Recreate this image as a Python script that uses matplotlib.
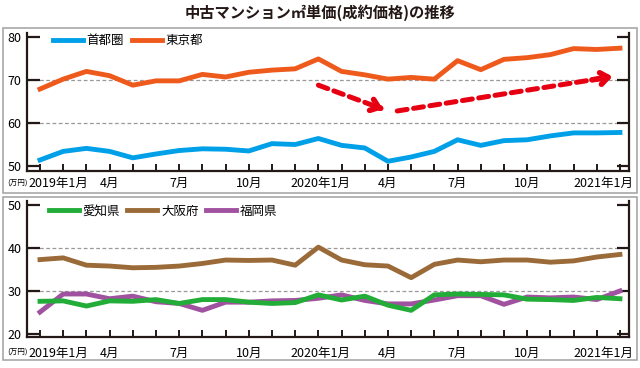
import matplotlib
matplotlib.use("Agg")
import matplotlib.pyplot as plt
from matplotlib.patches import Rectangle

plt.rcParams["font.family"] = ["Noto Sans CJK JP", "DejaVu Sans"]

# 2019年1月〜2021年2月 (26か月)
months = list(range(26))
tick_labels = ["2019年1月", "4月", "7月", "10月", "2020年1月", "4月", "7月", "10月", "2021年1月"]
tick_label_pos = [0.78, 3, 6, 9, 12.1, 15, 18, 21, 24.3]

# 首都圏・東京都 (万円/㎡)
shutoken = [51.4, 53.4, 54.1, 53.4, 51.9, 52.8, 53.6, 54.0, 53.9, 53.5, 55.2, 55.0, 56.4,
            54.8, 54.2, 51.1, 52.1, 53.4, 56.1, 54.8, 55.9, 56.1, 57.0, 57.7, 57.7, 57.8]
tokyo = [67.9, 70.2, 72.0, 71.0, 68.8, 69.8, 69.8, 71.3, 70.7, 71.8, 72.3, 72.6, 74.9,
         72.0, 71.2, 70.2, 70.6, 70.2, 74.5, 72.4, 74.8, 75.2, 75.9, 77.3, 77.1, 77.4]

# 愛知県・大阪府・福岡県
aichi = [27.6, 27.7, 26.5, 27.7, 27.6, 28.0, 27.1, 28.0, 28.0, 27.4, 27.1, 27.3, 29.1,
         27.9, 28.8, 26.7, 25.5, 29.1, 29.3, 29.2, 29.1, 28.1, 28.0, 27.8, 28.5, 28.2]
osaka = [37.3, 37.7, 36.0, 35.8, 35.4, 35.5, 35.8, 36.4, 37.2, 37.1, 37.2, 36.0, 40.2,
         37.2, 36.1, 35.8, 33.1, 36.2, 37.2, 36.8, 37.2, 37.2, 36.7, 37.0, 37.9, 38.5]
fukuoka = [25.1, 29.3, 29.3, 28.2, 28.8, 27.5, 27.1, 25.5, 27.4, 27.4, 27.7, 27.8, 28.3,
           29.1, 27.8, 27.0, 27.0, 27.9, 28.9, 28.9, 26.9, 28.6, 28.4, 28.6, 28.0, 30.0]

# 赤い点線矢印 (下落→回復)
arrow_down = ((12.0, 68.8), (14.9, 63.0))
arrow_up = ((15.4, 62.8), (24.8, 70.9))

COLORS = {
    "首都圏": "#00a0e9",
    "東京都": "#ee5a1c",
    "愛知県": "#22ac38",
    "大阪府": "#9a6a38",
    "福岡県": "#a0519f",
}
AXIS_COLOR = "#231815"
W, H = 640, 368
LW = 3.5


def style_axis(ax, ylim, yticks, grid_vals, label_offset):
    ax.set_xlim(-0.56, 25.39)
    ax.set_ylim(*ylim)
    ax.set_yticks(yticks)
    ax.set_xticks(months)
    ax.set_xticklabels([])
    ax.spines["top"].set_visible(False)
    for side in ("left", "right", "bottom"):
        ax.spines[side].set_color(AXIS_COLOR)
        ax.spines[side].set_linewidth(1.6)
    ax.tick_params(axis="y", direction="in", length=9, width=1.6, color=AXIS_COLOR,
                   labelsize=9, pad=4, right=True)
    ax.tick_params(axis="x", direction="in", length=5, width=1.4, color=AXIS_COLOR)
    for g in grid_vals:
        ax.axhline(g, color="#999999", linestyle=(0, (3, 2)), linewidth=0.9, zorder=1)
    for pos, lab in zip(tick_label_pos, tick_labels):
        ax.annotate(lab, xy=(pos, 0), xycoords=("data", "axes fraction"),
                    xytext=(0, -label_offset), textcoords="offset pixels",
                    ha="center", va="center", fontsize=9)
    ax.annotate("(万円)", xy=(0, 0), xycoords="axes fraction",
                xytext=(-20, -label_offset), textcoords="offset pixels",
                ha="left", va="center", fontsize=5.5)


def draw_arrow(ax, seg):
    (x0, y0), (x1, y1) = seg
    ax.plot([x0, x1 - (x1 - x0) * 0.07], [y0, y1 - (y1 - y0) * 0.07],
            color="#e60012", linewidth=3.6, linestyle=(0, (2.0, 1.3)),
            dash_capstyle="round", zorder=4)
    ax.annotate("", xy=(x1, y1), xytext=(x1 - (x1 - x0) * 0.12, y1 - (y1 - y0) * 0.12),
                arrowprops=dict(arrowstyle="->,head_length=0.55,head_width=0.42",
                                color="#e60012", linewidth=4.0), zorder=4)


fig = plt.figure(figsize=(W / 100, H / 100), dpi=100)

fig.text(0.5, 1 - 13 / H, "中古マンション㎡単価(成約価格)の推移", ha="center", va="center",
         fontsize=11, fontweight="bold", color="#231815")

# パネル枠
for (x0, y0, x1, y1) in [(3, 28, 637, 193), (3, 197, 637, 360)]:
    fig.add_artist(Rectangle((x0 / W, 1 - y1 / H), (x1 - x0) / W, (y1 - y0) / H,
                             transform=fig.transFigure, fill=False,
                             edgecolor="#a8a8a8", linewidth=1.2))

left, right = 27 / W, 629 / W
ax1 = fig.add_axes([left, 1 - 171 / H, right - left, 138 / H])
ax2 = fig.add_axes([left, 1 - 337 / H, right - left, 136 / H])

ax1.plot(months, shutoken, color=COLORS["首都圏"], linewidth=LW, label="首都圏", zorder=3)
ax1.plot(months, tokyo, color=COLORS["東京都"], linewidth=LW, label="東京都", zorder=3)
style_axis(ax1, (48.84, 80.93), [50, 60, 70, 80], [60, 70], 12.5)
draw_arrow(ax1, arrow_down)
draw_arrow(ax1, arrow_up)
ax1.legend(loc="center left", bbox_to_anchor=(0.043, 0.944), ncol=2, frameon=False,
           fontsize=9, handlelength=2.4, handletextpad=0.3, columnspacing=0.6,
           borderpad=0, borderaxespad=0)

ax2.plot(months, osaka, color=COLORS["大阪府"], linewidth=LW, label="大阪府", zorder=3)
ax2.plot(months, fukuoka, color=COLORS["福岡県"], linewidth=LW, label="福岡県", zorder=3)
ax2.plot(months, aichi, color=COLORS["愛知県"], linewidth=LW, label="愛知県", zorder=3)
style_axis(ax2, (19.3, 50.93), [20, 30, 40, 50], [30, 40], 16)
handles, labels = ax2.get_legend_handles_labels()
order = [labels.index(n) for n in ("愛知県", "大阪府", "福岡県")]
ax2.legend([handles[i] for i in order], [labels[i] for i in order],
           loc="center left", bbox_to_anchor=(0.036, 0.926), ncol=3, frameon=False,
           fontsize=9, handlelength=2.4, handletextpad=0.3, columnspacing=0.6,
           borderpad=0, borderaxespad=0)

fig.savefig("out.png", dpi=100)
